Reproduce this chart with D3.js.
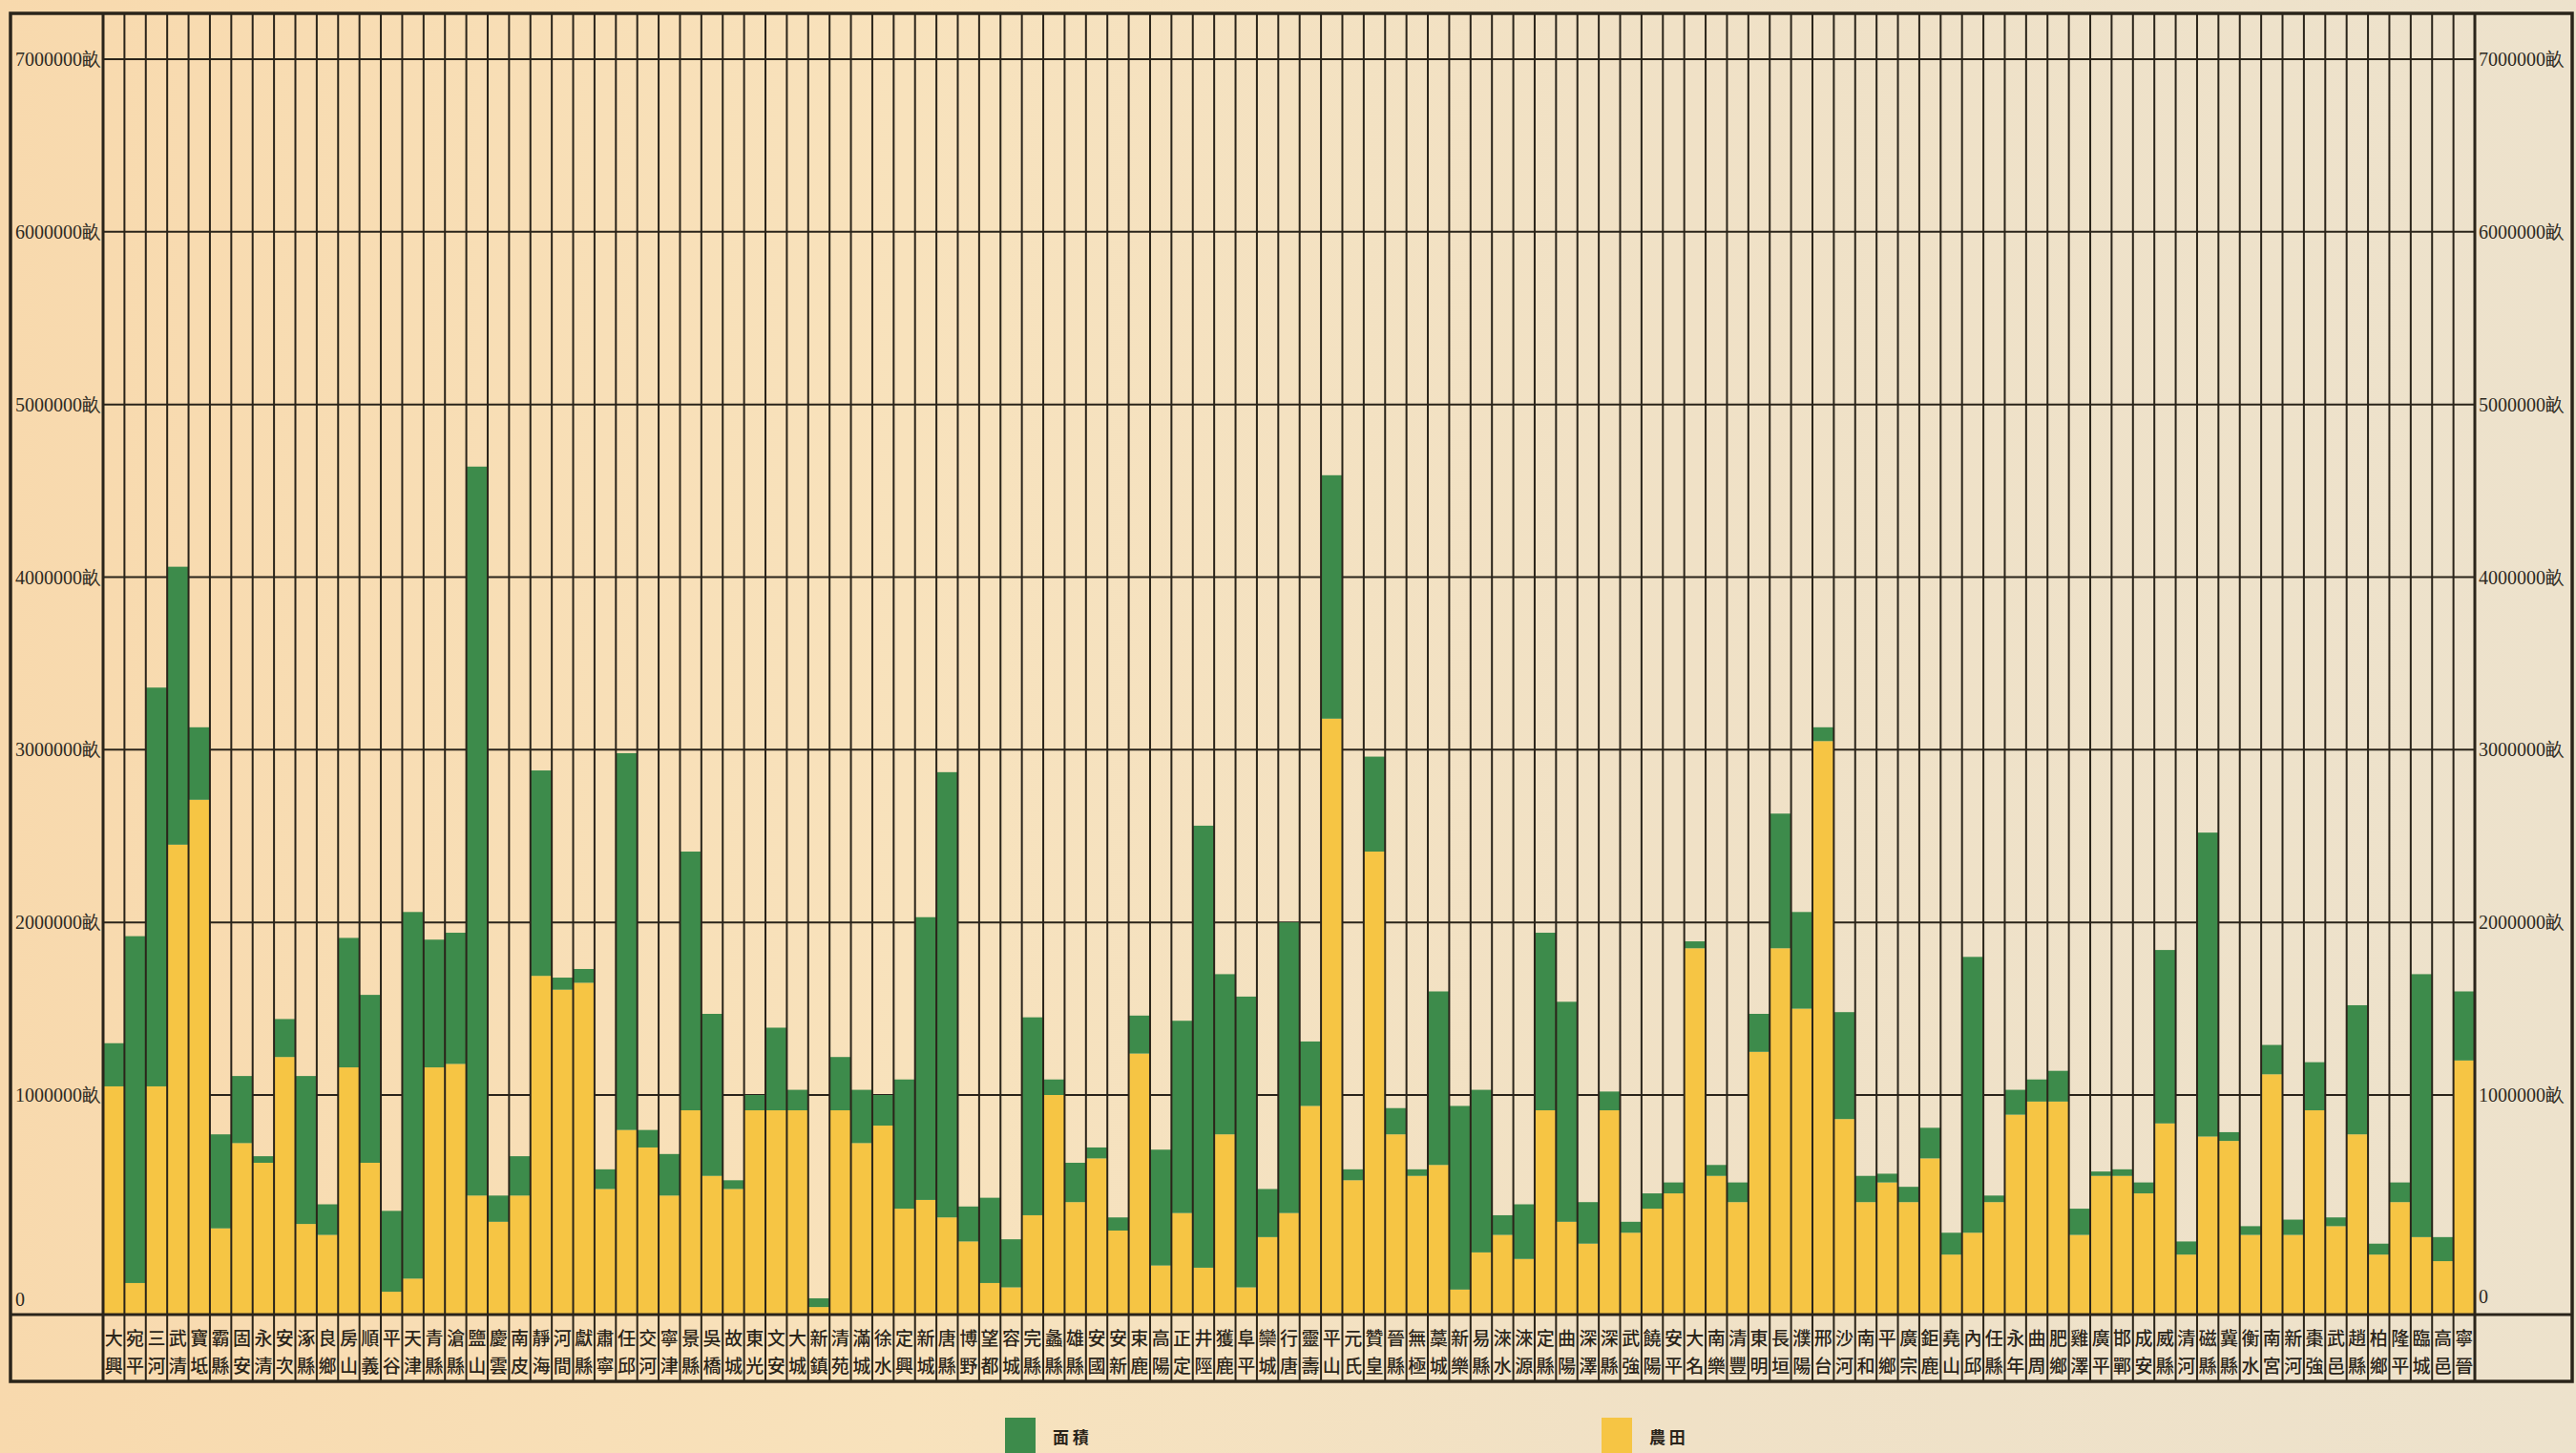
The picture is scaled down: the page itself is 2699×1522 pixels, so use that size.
<html>

<head>
  <meta charset="utf-8">
  <script src="https://d3js.org/d3.v7.min.js"></script>
  <style>
    body {
      margin: 0;
      background-color: #f1ddb8;
    }

    svg {
      display: block;
    }

    .tick-label {
      font-family: "Liberation Serif", "DejaVu Serif", serif;
      font-size: 20px;
      fill: #2e2a22;
    }

    .county {
      font-family: "Noto Sans CJK TC", "Noto Sans CJK SC", sans-serif;
      font-size: 19px;
      font-weight: 500;
      fill: #2b2519;
    }
  </style>
</head>

<body>
  <div id="chart"></div>
</body>

<script>
  // counties (two characters each, written top to bottom)
  var counties = ["大興", "宛平", "三河", "武清", "寶坻", "霸縣", "固安", "永清", "安次", "涿縣",
    "良鄉", "房山", "順義", "平谷", "天津", "青縣", "滄縣", "鹽山", "慶雲", "南皮",
    "靜海", "河間", "獻縣", "肅寧", "任邱", "交河", "寧津", "景縣", "吳橋", "故城",
    "東光", "文安", "大城", "新鎮", "清苑", "滿城", "徐水", "定興", "新城", "唐縣",
    "博野", "望都", "容城", "完縣", "蠡縣", "雄縣", "安國", "安新", "束鹿", "高陽",
    "正定", "井陘", "獲鹿", "阜平", "欒城", "行唐", "靈壽", "平山", "元氏", "贊皇",
    "晉縣", "無極", "藁城", "新樂", "易縣", "淶水", "淶源", "定縣", "曲陽", "深澤",
    "深縣", "武強", "饒陽", "安平", "大名", "南樂", "清豐", "東明", "長垣", "濮陽",
    "邢台", "沙河", "南和", "平鄉", "廣宗", "鉅鹿", "堯山", "內邱", "任縣", "永年",
    "曲周", "肥鄉", "雞澤", "廣平", "邯鄲", "成安", "威縣", "清河", "磁縣", "冀縣",
    "衡水", "南宮", "新河", "棗強", "武邑", "趙縣", "柏鄉", "隆平", "臨城", "高邑",
    "寧晉"];

  // 面積 (total area, 畝)
  var area = [1300000, 1920000, 3360000, 4060000, 3130000, 820000, 1110000, 720000, 1440000, 1110000,
    500000, 1910000, 1580000, 470000, 2060000, 1900000, 1940000, 4640000, 540000, 720000,
    2880000, 1680000, 1730000, 660000, 2980000, 840000, 730000, 2410000, 1470000, 610000,
    1000000, 1390000, 1030000, 70000, 1220000, 1030000, 1000000, 1090000, 2030000, 2870000,
    490000, 530000, 340000, 1450000, 1090000, 690000, 760000, 440000, 1460000, 750000,
    1430000, 2560000, 1700000, 1570000, 570000, 2000000, 1310000, 4590000, 660000, 2960000,
    940000, 660000, 1600000, 950000, 1030000, 450000, 500000, 1940000, 1540000, 510000,
    1020000, 420000, 550000, 600000, 1890000, 680000, 600000, 1470000, 2630000, 2060000,
    3130000, 1480000, 630000, 640000, 580000, 850000, 370000, 1800000, 540000, 1030000,
    1090000, 1140000, 480000, 650000, 660000, 600000, 1840000, 330000, 2520000, 830000,
    400000, 1290000, 430000, 1190000, 440000, 1520000, 320000, 600000, 1700000, 350000,
    1600000];

  // 農田 (farmland, 畝)
  var farmland = [1050000, 140000, 1050000, 2450000, 2710000, 390000, 780000, 690000, 1220000, 410000,
    360000, 1160000, 690000, 100000, 160000, 1160000, 1180000, 540000, 420000, 540000,
    1690000, 1610000, 1650000, 570000, 840000, 760000, 540000, 930000, 630000, 570000,
    930000, 930000, 930000, 30000, 930000, 780000, 860000, 480000, 520000, 440000,
    330000, 140000, 120000, 450000, 1000000, 510000, 710000, 380000, 1240000, 220000,
    460000, 210000, 820000, 120000, 350000, 460000, 950000, 3180000, 610000, 2410000,
    820000, 630000, 680000, 110000, 280000, 360000, 250000, 930000, 420000, 320000,
    930000, 370000, 480000, 550000, 1850000, 630000, 510000, 1250000, 1850000, 1500000,
    3050000, 890000, 510000, 600000, 510000, 710000, 270000, 370000, 510000, 910000,
    970000, 970000, 360000, 630000, 630000, 550000, 870000, 270000, 810000, 790000,
    360000, 1120000, 360000, 930000, 400000, 820000, 270000, 510000, 350000, 240000,
    1200000];

  var tickValues = [0, 1000000, 2000000, 3000000, 4000000, 5000000, 6000000, 7000000];
  var legendItems = ["面 積", "農 田"];

  var width = 2699, height = 1522;
  var plotLeft = 108, plotRight = 2593, plotTop = 14, baseY = 1376, frameBottom = 1447;
  var green = "#3d8b4b", yellow = "#f6c544", ink = "#2a241a";

  var svg = d3.select("#chart").append("svg")
    .attr("width", width).attr("height", height);

  // paper background
  var defs = svg.append("defs");
  var grad = defs.append("linearGradient").attr("id", "paper")
    .attr("x1", "0").attr("y1", "0").attr("x2", "1").attr("y2", "0");
  grad.append("stop").attr("offset", "0").attr("stop-color", "#f8d9ad");
  grad.append("stop").attr("offset", "0.35").attr("stop-color", "#f8e2bc");
  grad.append("stop").attr("offset", "0.65").attr("stop-color", "#f0e1c6");
  grad.append("stop").attr("offset", "1").attr("stop-color", "#ede2cc");
  svg.append("rect").attr("width", width).attr("height", height).attr("fill", "url(#paper)");

  // the printed axis is squeezed between 0 and 1000000
  var y = d3.scaleLinear().domain([0, 1000000, 7000000]).range([baseY, 1147, 62]);
  var x = d3.scaleBand().domain(counties).range([plotLeft, plotRight]).padding(0);

  // horizontal grid lines
  svg.selectAll(".grid").data(tickValues.slice(1)).enter().append("line")
    .attr("x1", plotLeft).attr("x2", plotRight)
    .attr("y1", function(d) { return y(d); }).attr("y2", function(d) { return y(d); })
    .attr("stroke", ink).attr("stroke-width", 2);

  // farmland bars
  svg.selectAll(".farm").data(counties).enter().append("rect")
    .attr("x", function(d) { return x(d); })
    .attr("width", x.bandwidth())
    .attr("y", function(d, i) { return y(farmland[i]); })
    .attr("height", function(d, i) { return baseY - y(farmland[i]); })
    .attr("fill", yellow);

  // area bars sit on top of the farmland
  svg.selectAll(".area").data(counties).enter().append("rect")
    .attr("x", function(d) { return x(d); })
    .attr("width", x.bandwidth())
    .attr("y", function(d, i) { return y(area[i]); })
    .attr("height", function(d, i) { return y(farmland[i]) - y(area[i]); })
    .attr("fill", green);

  // column separators
  var edges = counties.map(function(d) { return x(d); }).concat([plotRight]);
  svg.selectAll(".sep").data(edges).enter().append("line")
    .attr("x1", function(d) { return d; }).attr("x2", function(d) { return d; })
    .attr("y1", plotTop).attr("y2", frameBottom)
    .attr("stroke", ink)
    .attr("stroke-width", function(d, i) { return (i == 0 || i == edges.length - 1) ? 3 : 2; });

  // baseline and frame
  svg.append("line").attr("x1", 11).attr("x2", 2695).attr("y1", baseY + 1).attr("y2", baseY + 1)
    .attr("stroke", ink).attr("stroke-width", 3);
  svg.append("rect").attr("x", 11).attr("y", plotTop).attr("width", 2684).attr("height", frameBottom - plotTop)
    .attr("fill", "none").attr("stroke", ink).attr("stroke-width", 3.5);

  // tick labels on both sides
  function tickText(d) { return d == 0 ? "0" : d + "畝"; }

  svg.selectAll(".lt").data(tickValues).enter().append("text")
    .attr("class", "tick-label")
    .attr("x", 16)
    .attr("y", function(d) { return d == 0 ? 1361 : y(d); })
    .attr("dominant-baseline", "central")
    .text(tickText);

  svg.selectAll(".rt").data(tickValues).enter().append("text")
    .attr("class", "tick-label")
    .attr("x", 2597)
    .attr("y", function(d) { return d == 0 ? 1358 : y(d); })
    .attr("dominant-baseline", "central")
    .text(tickText);

  // county names, one character above the other
  var names = svg.selectAll(".county").data(counties).enter().append("text")
    .attr("class", "county")
    .attr("text-anchor", "middle");
  names.append("tspan")
    .attr("x", function(d) { return x(d) + x.bandwidth() / 2; })
    .attr("y", 1409)
    .text(function(d) { return d.charAt(0); });
  names.append("tspan")
    .attr("x", function(d) { return x(d) + x.bandwidth() / 2; })
    .attr("y", 1438)
    .text(function(d) { return d.charAt(1); });

  // legend
  var legend = svg.selectAll(".legend").data(legendItems).enter().append("g")
    .attr("transform", function(d, i) { return "translate(" + (1053 + i * 625) + ",1485)"; });
  legend.append("rect").attr("width", 32).attr("height", 40)
    .attr("fill", function(d, i) { return i == 0 ? green : yellow; });
  legend.append("text")
    .attr("x", 50).attr("y", 19)
    .attr("dominant-baseline", "central")
    .style("font-family", "Noto Sans CJK TC").style("font-size", "17px").style("font-weight", "700")
    .style("fill", ink)
    .text(function(d) { return d; });
</script>

</html>
